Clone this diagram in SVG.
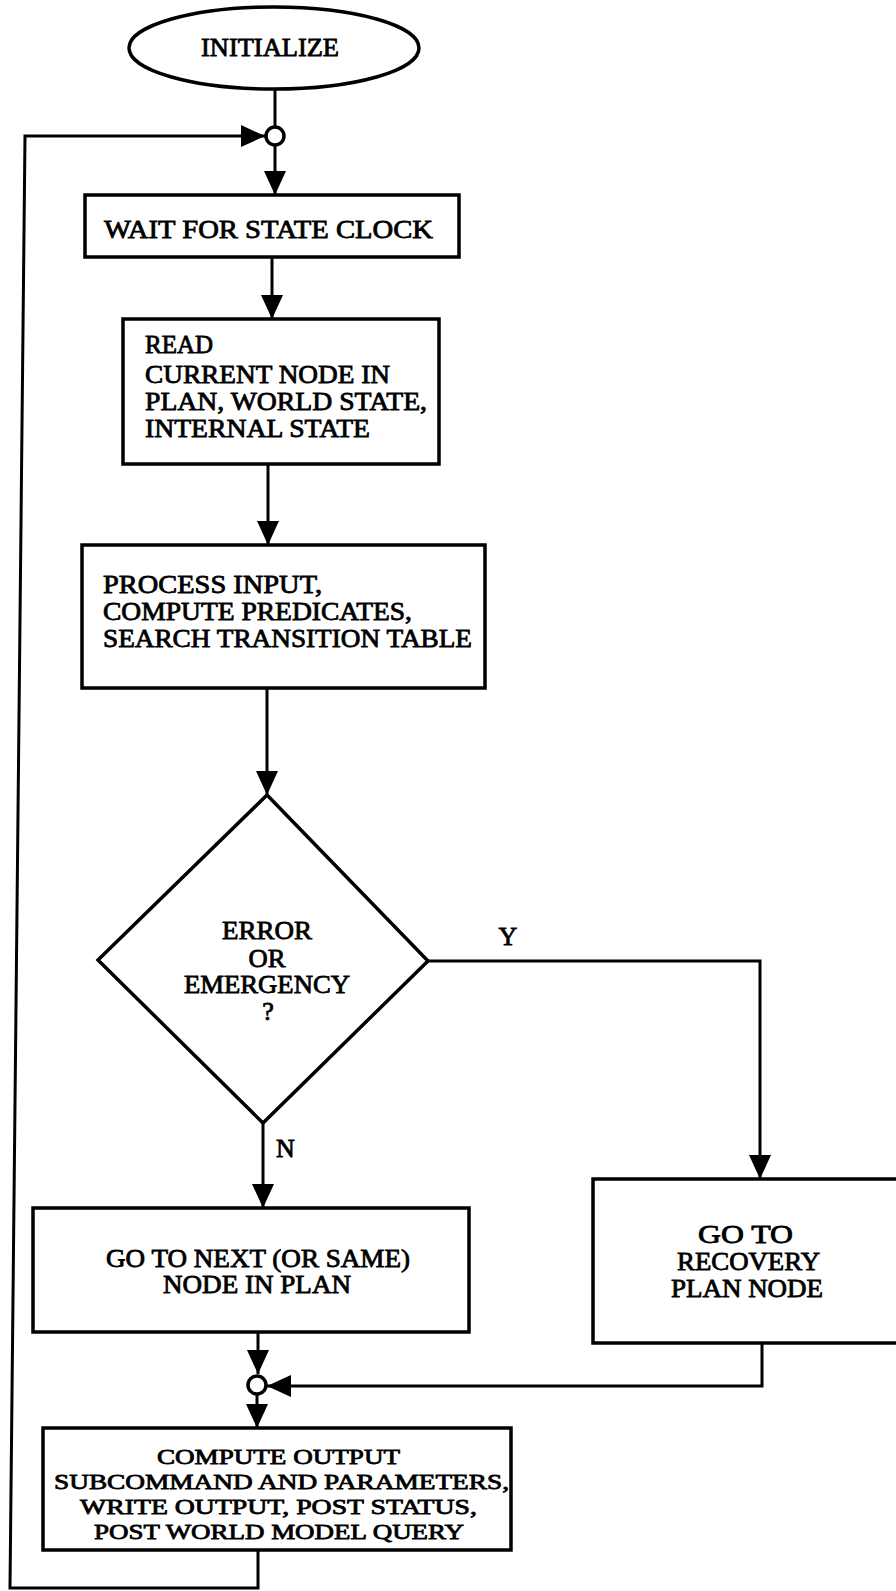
<svg xmlns="http://www.w3.org/2000/svg" width="896" height="1591" viewBox="0 0 896 1591">
<style>
.s{fill:#fff;stroke:#000;stroke-width:3.5}
.c{fill:none;stroke:#000;stroke-width:3}
.t{font-family:"Liberation Serif","Times New Roman",serif;font-size:26px;fill:#000;stroke:#000;stroke-width:0.8}
.m{text-anchor:middle}
.sm{font-size:22px}
</style>
<defs>
<marker id="ah" markerUnits="userSpaceOnUse" markerWidth="24" markerHeight="22" viewBox="0 0 24 22" refX="24" refY="11" orient="auto">
<path d="M0,0 L24,11 L0,22 Z" fill="#000"/>
</marker>
</defs>
<rect width="896" height="1591" fill="#fff"/>
<g id="connectors">
<path class="c" d="M275,90 V127"/>
<path class="c" d="M258,1550 V1588 H10 L25,136 H265" marker-end="url(#ah)"/>
<path class="c" d="M275,146 V195" marker-end="url(#ah)"/>
<path class="c" d="M272,257 V319" marker-end="url(#ah)"/>
<path class="c" d="M268,464 V545" marker-end="url(#ah)"/>
<path class="c" d="M267,688 V795" marker-end="url(#ah)"/>
<path class="c" d="M428,961 H760 V1179" marker-end="url(#ah)"/>
<path class="c" d="M263,1123 V1208" marker-end="url(#ah)"/>
<path class="c" d="M258,1332 V1374" marker-end="url(#ah)"/>
<path class="c" d="M762,1343 V1386 H267" marker-end="url(#ah)"/>
<path class="c" d="M257,1395 V1428" marker-end="url(#ah)"/>
</g>
<g id="initialize">
<ellipse class="s" cx="274" cy="48" rx="145" ry="41"/>
<text class="t" x="201" y="56" textLength="138" lengthAdjust="spacingAndGlyphs">INITIALIZE</text>
</g>
<g id="junction-top">
<circle class="s" cx="275" cy="136" r="9" stroke-width="3"/>
</g>
<g id="wait">
<rect class="s" x="85" y="195" width="374" height="62"/>
<text class="t" x="104" y="238" textLength="329" lengthAdjust="spacingAndGlyphs">WAIT  FOR  STATE CLOCK</text>
</g>
<g id="read">
<rect class="s" x="123" y="319" width="316" height="145"/>
<text class="t" x="145" y="353" textLength="68" lengthAdjust="spacingAndGlyphs">READ</text>
<text class="t" x="145" y="383" textLength="245" lengthAdjust="spacingAndGlyphs">CURRENT NODE IN</text>
<text class="t" x="145" y="410" textLength="282" lengthAdjust="spacingAndGlyphs">PLAN, WORLD STATE,</text>
<text class="t" x="145" y="437" textLength="225" lengthAdjust="spacingAndGlyphs">INTERNAL STATE</text>
</g>
<g id="process">
<rect class="s" x="82" y="545" width="403" height="143"/>
<text class="t" x="103" y="593" textLength="219" lengthAdjust="spacingAndGlyphs">PROCESS  INPUT,</text>
<text class="t" x="103" y="620" textLength="309" lengthAdjust="spacingAndGlyphs">COMPUTE PREDICATES,</text>
<text class="t" x="103" y="647" textLength="369" lengthAdjust="spacingAndGlyphs">SEARCH TRANSITION TABLE</text>
</g>
<g id="decision">
<path class="s" d="M267,795 L428,961 L263,1123 L98,960 Z"/>
<text class="t m" x="267" y="939" textLength="90" lengthAdjust="spacingAndGlyphs">ERROR</text>
<text class="t m" x="267" y="967" textLength="37" lengthAdjust="spacingAndGlyphs">OR</text>
<text class="t m" x="267" y="993" textLength="166" lengthAdjust="spacingAndGlyphs">EMERGENCY</text>
<text class="t m" x="268" y="1020">?</text>
</g>
<g id="label-y">
<text class="t m" x="508" y="945">Y</text>
</g>
<g id="label-n">
<text class="t" x="276" y="1157">N</text>
</g>
<g id="next">
<rect class="s" x="33" y="1208" width="436" height="124"/>
<text class="t" x="106" y="1267" textLength="304" lengthAdjust="spacingAndGlyphs">GO TO NEXT (OR SAME)</text>
<text class="t" x="163" y="1293" textLength="188" lengthAdjust="spacingAndGlyphs">NODE IN PLAN</text>
</g>
<g id="recovery">
<rect class="s" x="593" y="1179" width="310" height="164"/>
<text class="t" x="698" y="1243" textLength="95" lengthAdjust="spacingAndGlyphs">GO TO</text>
<text class="t" x="677" y="1270" textLength="143" lengthAdjust="spacingAndGlyphs">RECOVERY</text>
<text class="t" x="671" y="1297" textLength="152" lengthAdjust="spacingAndGlyphs">PLAN NODE</text>
</g>
<g id="junction-bottom">
<circle class="s" cx="257" cy="1385" r="9" stroke-width="3"/>
</g>
<g id="compute">
<rect class="s" x="43" y="1428" width="468" height="122"/>
<text class="t sm" x="157" y="1464" textLength="243" lengthAdjust="spacingAndGlyphs">COMPUTE OUTPUT</text>
<text class="t sm" x="54" y="1489" textLength="455" lengthAdjust="spacingAndGlyphs">SUBCOMMAND AND PARAMETERS,</text>
<text class="t sm" x="80" y="1514" textLength="397" lengthAdjust="spacingAndGlyphs">WRITE OUTPUT, POST STATUS,</text>
<text class="t sm" x="94" y="1539" textLength="370" lengthAdjust="spacingAndGlyphs">POST WORLD MODEL QUERY</text>
</g>
</svg>
